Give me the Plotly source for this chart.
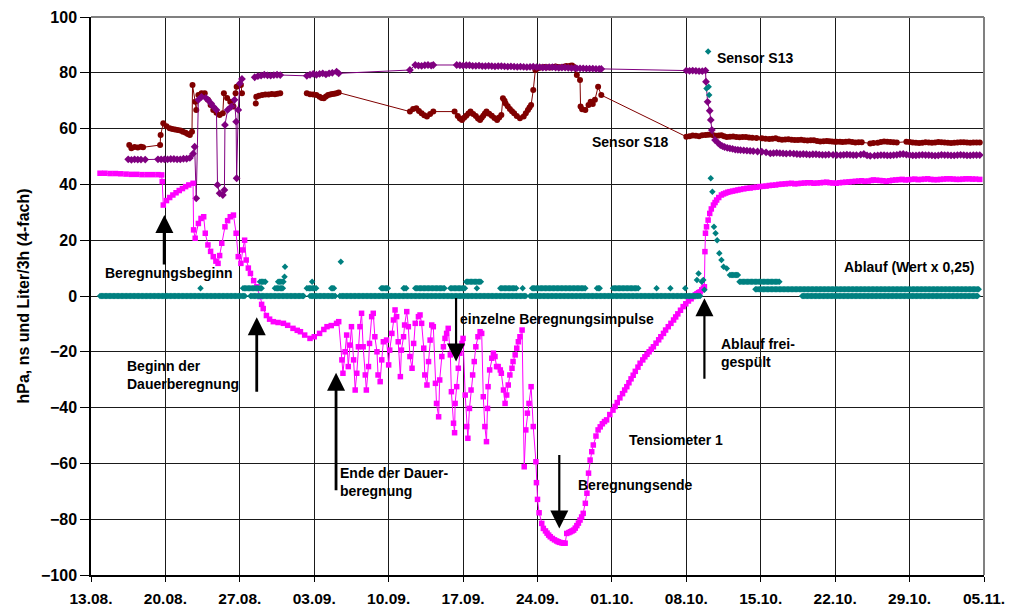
import numpy as np
import pandas as pd
import plotly.graph_objects as go

BASE = pd.Timestamp("2001-08-13")

# ---------------- Tensiometer 1 (days after 13.08., hPa) ----------------
t1_days = [0.85, 1.3, 1.8, 2.3, 2.8, 3.3, 3.8, 4.3, 4.8, 5.3, 5.8, 6.3, 6.65, 6.7, 6.8,
           7.1, 7.4, 7.7, 8.0, 8.3, 8.6, 8.9, 9.2, 9.6,
           9.65, 9.8, 10.1, 10.35, 10.6, 10.75, 11.0, 11.25, 11.5, 11.75, 11.95, 12.1, 12.3,
           12.6, 12.85, 13.1, 13.4, 13.65, 13.85, 14.1, 14.27, 14.45, 14.6, 14.8, 15.0, 15.3,
           15.6, 15.9, 16.05, 16.2, 16.5, 16.8, 17.15, 17.6, 18.1, 18.5, 19.0, 19.4, 19.7,
           20.1, 20.6, 21.0, 21.5, 21.9, 22.2, 22.6, 23.1, 23.3,
           23.6, 23.7, 23.9, 24.05, 24.2, 24.35, 24.5, 24.7, 24.85, 25.0, 25.15, 25.3, 25.45,
           25.6, 25.8, 25.9, 26.1, 26.2, 26.4, 26.55, 26.7, 26.9, 27.0, 27.2, 27.35, 27.5,
           27.8, 28.0, 28.1, 28.3, 28.45, 28.6, 28.75, 28.9, 29.1, 29.2, 29.4, 29.5, 29.7,
           29.85, 30.0, 30.2, 30.35, 30.5, 30.8, 30.95, 31.1, 31.3, 31.4, 31.6, 31.75, 31.9,
           32.05, 32.2, 32.4, 32.5, 32.7, 32.8, 33.0, 33.15, 33.3, 33.45, 33.6, 33.8, 33.9,
           34.1, 34.2, 34.25, 34.4, 34.55, 34.7, 34.9, 35.0, 35.2, 35.35, 35.45, 35.6, 35.75,
           35.9, 36.05, 36.2, 36.4, 36.6, 36.75, 36.9, 37.05, 37.2, 37.3, 37.35, 37.5, 37.7,
           37.85, 38.0, 38.15, 38.3, 38.5, 38.6, 38.8, 38.95, 39.1, 39.25, 39.4, 39.6, 39.7,
           39.9, 40.05, 40.2, 40.35, 40.55, 40.75, 40.9, 41.05, 41.2, 41.4, 41.6, 41.85, 41.9,
           42.0, 42.15, 42.4,
           42.55, 42.75, 42.9, 43.05, 43.2, 43.4, 43.6, 43.8, 43.95, 44.1, 44.3, 44.45, 44.6,
           44.75, 44.95, 45.1, 45.25, 45.4, 45.55, 45.7, 45.85, 46.0, 46.15, 46.3,
           46.5, 46.65, 46.8, 46.95, 47.1, 47.25, 47.5, 47.7, 47.9, 48.1, 48.3, 48.5, 48.8,
           49.1, 49.3, 49.5, 49.75, 50.0, 50.2, 50.4, 50.6, 50.8,
           51.0, 51.2, 51.45, 51.65, 51.9, 52.1, 52.3, 52.5, 52.7, 52.9, 53.15, 53.4, 53.6,
           53.85, 54.05, 54.3, 54.55, 54.8, 55.0, 55.2, 55.45, 55.7, 55.95, 56.2, 56.45, 56.65,
           56.85, 57.0, 57.15, 57.3, 57.45, 57.6, 57.7, 57.75, 57.8, 57.9, 58.05, 58.2, 58.35,
           58.55, 58.7, 58.85, 59.05, 59.3,
           59.5, 59.7, 59.9, 60.1, 60.35, 60.6, 60.85, 61.1, 61.4, 61.7, 62.0, 62.3, 62.6,
           62.9, 63.2, 63.5, 63.8, 64.1, 64.4, 64.7, 65.0, 65.3, 65.6, 65.9, 66.2, 66.5, 66.8,
           67.1, 67.4, 67.7, 68.0, 68.3, 68.6, 68.9, 69.2, 69.5, 69.8, 70.1, 70.4, 70.7, 71.0,
           71.3, 71.6, 71.9, 72.2, 72.5, 72.8, 73.1, 73.4, 73.6, 73.9, 74.2, 74.5, 74.8, 75.1,
           75.4, 75.7, 76.0, 76.3, 76.6, 76.9, 77.2, 77.5, 77.8, 78.1, 78.4, 78.7, 79.0, 79.3,
           79.6, 79.9, 80.2, 80.5, 80.8, 81.1, 81.4, 81.7, 82.0, 82.3, 82.6, 82.9, 83.2, 83.6]
t1_vals = [44.0, 44.0, 43.9, 43.9, 43.8, 43.7, 43.6, 43.6, 43.5, 43.5, 43.5, 43.5, 43.4, 41.0, 32.6,
           34.2, 35.3, 36.2, 37.0, 37.8, 38.5, 39.2, 39.8, 40.4,
           23.7, 20.7, 26.0, 27.8, 28.4, 22.5, 18.3, 16.0, 14.1, 12.5, 11.7, 14.5, 18.9,
           24.8, 27.0, 28.4, 29.0, 22.5, 14.1, 11.7, 16.5, 20.0, 12.9, 10.0, 8.1, 5.5,
           3.3, -0.2, -3.0, -4.5, -7.0, -8.3, -9.2, -9.5, -9.8, -10.5, -11.6, -12.3, -12.8,
           -14.0, -15.2, -14.6, -13.4, -12.0, -11.0, -10.6, -9.8, -9.2,
           -22.9, -27.7, -20.0, -14.0, -25.3, -17.6, -11.0, -22.9, -33.7, -27.7, -18.2, -11.0, -6.2,
           -18.2, -28.3, -33.7, -25.3, -17.0, -7.4, -6.2, -14.6, -20.0, -28.3, -30.7, -22.9, -16.4,
           -15.8, -24.7, -19.4, -13.4, -8.6, -5.0, -7.4, -16.4, -28.9, -19.4, -14.6, -10.4, -5.6,
           -11.0, -21.7, -25.9, -17.0, -9.8, -7.4, -6.8, -9.8, -18.7, -28.3, -31.9, -23.5, -15.8,
           -10.4, -11.0, -31.3, -38.5, -43.3, -30.1, -21.7, -18.2, -15.2, -13.4, -11.6, -21.1, -34.3,
           -45.6, -49.0, -38.5, -32.5, -25.9, -20.5, -17.0, -15.2, -35.5, -46.8, -51.0, -40.3, -33.7,
           -28.3, -23.5, -18.2, -14.6, -12.8, -13.4, -36.1, -46.8, -52.2, -40.3, -32.5, -26.5, -22.3,
           -20.5, -21.7, -25.3, -25.3, -26.5, -27.7, -33.7, -38.5, -35.5, -31.9, -28.3, -25.9, -23.5,
           -21.1, -18.7, -16.4, -14.6, -12.2, -61.2, -48.0, -42.0, -38.5, -32.5, -46.8, -59.4, -66.9,
           -72.9, -77.7, -81.5,
           -83.3, -84.2, -85.0, -85.7, -86.3, -86.9, -87.4, -87.8, -88.1, -88.3, -88.5, -88.6, -88.6,
           -85.1, -84.8, -84.5, -84.2, -83.9, -83.2, -82.3, -81.4, -80.3, -79.2, -77.9,
           -74.3, -70.7, -63.5, -58.8, -55.8, -53.4, -50.2, -48.0, -46.9, -45.8, -45.0, -44.4, -42.5,
           -40.9, -39.6, -38.2, -36.5, -35.0, -33.7, -32.5, -31.1, -29.7,
           -28.4, -27.0, -25.5, -24.1, -22.9, -21.8, -20.9, -20.0, -19.1, -18.2, -16.9, -15.7, -14.6,
           -13.4, -12.2, -11.0, -9.8, -8.6, -7.5, -6.4, -5.1, -3.8, -2.8, -1.8, -1.0, -0.2,
           0.4, 0.8, 1.2, 1.5, 2.2, 2.8, 3.3, 15.9, 22.5, 24.8, 27.2, 29.6, 31.2,
           32.6, 33.5, 34.4, 35.3, 36.2,
           36.6, 36.9, 37.2, 37.4, 37.6, 37.8, 38.0, 38.2, 38.4, 38.6, 38.7, 38.9, 39.0,
           39.2, 39.3, 39.4, 39.6, 39.7, 39.8, 40.0, 40.1, 40.2, 40.3, 40.4, 40.2, 40.3, 40.4,
           40.5, 40.6, 40.6, 40.4, 40.5, 40.6, 40.7, 40.8, 40.6, 40.5, 40.4, 40.6, 40.7, 40.8,
           40.9, 41.0, 41.1, 41.2, 41.3, 41.1, 41.2, 41.4, 41.6, 41.5, 41.4, 41.3, 41.1, 41.3,
           41.5, 41.6, 41.7, 41.8, 41.6, 41.7, 41.8, 41.9, 41.7, 41.8, 41.9, 42.0, 41.8, 41.7,
           41.7, 41.8, 41.9, 42.0, 42.0, 41.9, 41.8, 41.8, 41.9, 42.0, 42.0, 41.9, 41.9, 41.8]

# ---------------- Sensor S13 (ns) ----------------
s13_days = [3.5, 3.8, 4.1, 4.4, 4.7, 5.1, 6.3, 6.6, 6.9, 7.2, 7.5, 7.8, 8.1, 8.4, 8.7, 9.0,
            9.3, 9.6, 9.75, 9.9,
            10.1, 10.4, 10.8, 11.0, 11.3, 11.5, 11.8, 11.9, 12.1, 12.4, 12.55, 12.6, 12.85,
            13.2, 13.5, 13.65, 13.7, 13.85, 14.0, 14.2, 14.8,
            15.4, 15.7, 16.0, 16.3, 16.6, 16.9, 17.2, 17.5, 17.8, 20.3, 20.6, 20.9, 21.2, 21.5,
            21.8, 22.1, 22.4, 22.7, 23.1, 23.3,
            30.0, 30.5, 30.8, 31.1, 31.4, 31.7, 32.0, 32.2, 34.4, 34.7, 35.0, 35.3, 35.6, 35.9,
            36.2, 36.5, 36.8, 37.1, 37.4, 37.7, 38.0, 38.3, 38.6, 38.9, 39.2, 39.5, 39.8, 40.1,
            40.4, 40.7, 41.0, 41.3, 41.6, 41.9, 42.2, 42.5, 42.8, 43.1, 43.4, 43.7, 44.0, 44.3,
            44.6, 44.9, 45.2, 45.5, 45.7, 46.0, 46.3, 46.6, 46.9, 47.2, 47.5, 47.8, 48.0,
            56.0, 56.3, 56.6, 56.9, 57.2, 57.5, 57.8, 57.85, 58.0, 58.2, 58.3, 58.4, 58.7,
            59.0, 59.2, 59.4, 59.6, 59.85, 60.1, 60.35, 60.6, 60.85, 61.1, 61.4, 61.7, 62.0, 62.3,
            62.7, 63.1, 63.5, 63.9, 64.2, 64.5, 64.8, 65.1, 65.4, 65.75, 66.1, 66.4, 66.7, 67.0,
            67.3, 67.6, 67.9, 68.2, 68.5, 68.8, 69.1, 69.4, 69.8, 70.15, 70.5, 70.8, 71.1, 71.4,
            71.7, 72.0, 72.4, 72.7, 73.0, 73.3, 73.7, 74.0, 74.3, 74.6, 74.9, 75.2, 75.5, 75.8,
            76.1, 76.4, 76.7, 77.0, 77.3, 77.6, 77.9, 78.2, 78.5, 78.8, 79.1, 79.4, 79.7, 80.0,
            80.3, 80.6, 80.9, 81.2, 81.5, 81.8, 82.1, 82.4, 82.7, 83.0, 83.3, 83.6]
s13_vals = [49.0, 48.8, 49.0, 48.9, 48.9, 48.9, 49.0, 49.0, 49.0, 49.0, 49.1, 49.1, 49.0, 49.0, 49.2, 49.2,
            49.5, 51.0, 53.5, 35.0,
            70.3, 71.4, 71.0, 70.3, 69.0, 67.9, 66.7, 39.8, 36.8, 36.2, 38.0, 61.3, 66.7,
            67.9, 70.3, 62.5, 42.2, 66.7, 76.2, 77.8, None,
            78.4, 78.8, 79.0, 79.3, 79.1, 79.0, 79.2, 79.3, 79.2, 78.9, 79.3, 79.6, 79.3, 79.6,
            79.8, 79.4, 79.8, 80.0, 80.4, 79.8,
            81.0, 82.8, 82.6, 82.5, 82.7, 82.8, 82.6, 82.8, 82.8, 82.7, 82.6, 82.7, 82.7, 82.5,
            82.5, 82.6, 82.4, 82.4, 82.5, 82.4, 82.3, 82.4, 82.4, 82.3, 82.2, 82.3, 82.2, 82.1,
            82.2, 82.1, 82.0, 82.1, 82.2, 82.0, 82.0, 81.9, 81.9, 82.0, 82.0, 81.9, 81.8, 81.9,
            81.9, 81.8, 81.7, 81.7, 81.6, 81.6, 81.6, 81.5, 81.5, 81.5, 81.4, 81.4, 81.4,
            80.8, 80.7, 80.8, 80.7, 80.6, 80.6, 80.8, 76.8, 69.6, 66.4, 63.1, 59.5, 55.9,
            54.8, 54.1, 53.7, 53.4, 53.1, 52.9, 52.7, 52.5, 52.4, 52.3, 52.2, 52.1, 52.0, 51.9,
            51.8, 51.7, 51.5, 51.1, 51.2, 51.3, 51.2, 51.1, 51.0, 51.1, 51.0, 50.9, 50.8, 50.9,
            50.8, 50.7, 50.8, 50.8, 50.7, 50.6, 50.6, 50.7, 50.6, 50.5, 50.5, 50.6, 50.7, 50.6,
            50.5, 50.5, 50.7, 50.9, 50.4, 50.2, 50.3, 50.4, 50.5, 50.5, 50.4, 50.4, 50.5, 50.6,
            50.8, 50.9, 50.7, 50.5, 50.4, 50.4, 50.5, 50.6, 50.5, 50.5, 50.4, 50.3, 50.4, 50.6,
            50.5, 50.5, 50.4, 50.4, 50.5, 50.6, 50.5, 50.4, 50.4, 50.5, 50.5, 50.5]

# ---------------- Sensor S18 (ns) ----------------
s18_days = [3.6, 3.8, 4.1, 4.4, 4.7, 4.9, 6.5, 6.55, 6.8, 7.1, 7.4, 7.65, 7.9, 8.15, 8.4, 8.65,
            8.9, 9.1, 9.3, 9.5,
            9.55, 9.8, 9.9, 10.1, 10.4, 10.7, 11.0, 11.25, 11.5, 11.8, 12.1, 12.4, 12.5, 12.8,
            13.1, 13.4, 13.6, 13.7, 14.1, 14.2, 14.8,
            15.5, 15.55, 15.8, 16.1, 16.4, 16.7, 17.0, 17.3, 17.55, 17.8, 19.0,
            20.3, 20.6, 20.9, 21.2, 21.5, 21.7, 21.9, 22.1, 22.3, 22.5, 22.7, 22.9, 23.1, 23.3,
            30.0, 30.3, 30.6, 30.85, 31.1, 31.35, 31.6,
            31.9, 32.2, 34.2, 34.5, 34.7, 34.9, 35.1, 35.3, 35.5, 35.7, 35.95, 36.2, 36.4, 36.6,
            36.75, 36.9, 37.05, 37.2, 37.45, 37.7, 37.95, 38.2, 38.4, 38.6,
            38.75, 38.9, 39.0, 39.2, 39.4, 39.6, 39.8, 40.05, 40.35, 40.7, 40.9, 41.1, 41.25, 41.4,
            41.6, 41.8, 42.0, 42.2, 42.45, 42.7, 42.95, 43.2, 43.45, 43.7,
            43.95, 44.2, 44.45, 44.7, 44.9, 45.1, 45.25, 45.4, 45.7, 46.0, 46.05, 46.2, 46.5,
            46.8, 47.0, 47.2, 47.4, 47.7,
            48.0, 56.0, 56.3, 56.6, 56.9, 57.2, 57.5, 57.8, 58.05, 58.3, 58.55, 58.8, 59.05, 59.3,
            59.55, 59.8, 60.1, 60.4, 60.7, 61.0, 61.3, 61.6, 61.9, 62.2, 62.6, 63.1, 63.45, 63.8,
            64.1, 64.4, 64.7, 65.0, 65.3, 65.6, 65.9, 66.2, 66.5, 66.8, 67.1, 67.4, 67.7, 68.0,
            68.3, 68.6, 68.9, 69.2, 69.45, 69.7, 69.95, 70.15, 70.45, 70.7, 71.0, 71.3, 71.6,
            71.9, 72.2, 72.5, 73.3, 73.6, 74.0, 74.3, 74.6, 74.9, 75.2, 75.5, 75.8, 76.7, 77.0,
            77.3, 77.6, 77.9, 78.2, 78.5, 78.8, 79.1, 79.4, 79.7, 80.0, 80.3, 80.6, 80.9, 81.2,
            81.5, 81.8, 82.1, 82.4, 82.7, 83.0, 83.3, 83.6]
s18_vals = [54.1, 53.0, 53.4, 53.2, 53.5, 53.3, 54.1, 57.7, 61.9, 60.8, 60.1, 59.9, 59.7, 59.5, 59.3, 58.9,
            58.5, 58.1, 57.7, 58.9,
            75.6, 69.6, 66.7, 72.0, 72.7, 72.7, 70.3, 68.5, 66.7, 65.7, 64.9, 65.5, 72.7, 71.0,
            69.6, 67.9, 72.7, 75.0, 75.6, 72.7, None,
            69.0, 71.4, 71.8, 72.0, 72.2, 72.2, 72.4, 72.3, 72.5, 72.7, None,
            72.7, 72.3, 72.2, 72.0, 71.4, 71.0, 70.9, 71.5, 72.0, 72.2, 72.4, 72.5, 72.7, 72.9,
            66.1, 67.0, 67.3, 66.3, 65.5, 64.8, 64.3,
            65.2, 66.1, 66.1, 64.5, 63.6, 63.1, 63.9, 64.6, 65.4, 66.1, 65.2, 64.5, 63.6, 63.1,
            63.9, 64.6, 65.4, 66.1, 65.3, 64.6, 63.8, 63.1, 64.0, 64.9,
            70.9, 70.0, 69.0, 68.0, 67.0, 66.2, 65.5, 64.5, 63.7, 64.3, 65.5, 66.7, 67.6, 68.5,
            73.8, 81.0, 81.5, 81.8, 82.0, 82.1, 82.0, 81.9, 82.1, 82.3,
            82.1, 82.0, 82.2, 82.4, 82.3, 82.5, 82.6, 82.2, 79.2, 77.4, 67.9, 66.9, 66.7,
            68.5, 69.6, 68.8, 70.3, 75.0,
            72.0, 57.1, 57.3, 57.5, 57.4, 57.3, 57.6, 57.7, 57.8, 57.9, 57.6, 57.4, 57.5, 57.6,
            57.3, 57.0, 57.1, 57.2, 57.0, 56.9, 57.0, 57.0, 56.8, 56.7, 56.6, 56.5, 56.4, 56.3,
            56.4, 56.5, 56.2, 56.0, 56.1, 56.2, 56.0, 55.9, 55.9, 56.0, 55.8, 55.7, 55.8, 55.8,
            55.6, 55.4, 55.5, 55.6, 55.5, 55.4, 55.3, 55.3, 55.3, 55.2, 55.3, 55.4, 55.2,
            55.0, 55.1, 55.1, 54.7, 54.8, 54.9, 55.2, 55.4, 55.3, 55.2, 55.1, 55.0, 55.3, 55.2,
            55.0, 54.9, 54.8, 54.9, 55.1, 55.0, 54.9, 55.0, 55.2, 55.1, 55.0, 54.9, 54.8, 54.9,
            55.0, 55.1, 55.1, 55.0, 54.9, 55.0, 55.0, 55.0]

# ---------------- Ablauf (Wert x 0,25), 3-hourly readings ----------------
# runs of constant readings: start day, end day, value
abl_run_start = [0.85, 15.0, 20.6, 23.4, 41.3, 66.9,
                 14.3, 17.3, 20.3, 22.6, 27.3, 29.4, 30.5, 33.8, 36.3, 38.5, 40.6, 41.5,
                 47.6, 49.1, 53.2, 54.5, 55.9, 62.5,
                 15.9, 17.6, 35.3, 61.0, 60.1]
abl_run_end = [14.5, 20.0, 23.0, 41.0, 57.3, 83.5,
               16.1, 18.1, 21.2, 22.95, 28.0, 29.7, 33.3, 35.2, 36.4, 40.0, 40.7, 46.6,
               47.9, 51.5, 53.3, 54.6, 56.0, 83.5,
               16.5, 18.1, 36.75, 64.8, 60.9]
abl_run_val = [0.0, 0.0, 0.0, 0.0, 0.0, 0.0,
               2.75, 2.75, 2.75, 2.75, 2.75, 2.75, 2.75, 2.75, 2.75, 2.75, 2.75, 2.75,
               2.75, 2.75, 2.75, 2.75, 2.75, 2.4,
               5.1, 5.1, 5.1, 5.1, 7.5]
abl_single_days = [10.3, 18.2, 18.25, 20.8, 23.5, 57.0, 57.15, 57.45, 57.6, 57.7,
                   57.9, 58.05, 58.1, 58.15, 58.3, 58.45, 58.6, 58.75, 58.9, 59.1, 59.3,
                   59.5, 59.8]
abl_single_vals = [2.75, 6.9, 10.5, 5.1, 12.3, 5.7, 8.1, 5.1, 5.7, 2.2,
                   74.4, 87.6, 75.0, 72.0, 42.2, 37.4, 24.8, 22.5, 20.0, 15.3, 12.9,
                   10.5, 9.9]

# ---------------- helpers ----------------
def to_dates(days):
    return BASE + pd.to_timedelta(np.asarray(days, dtype=float), unit="D")

abl_days = list(abl_single_days)
abl_vals = list(abl_single_vals)
for s, e, v in zip(abl_run_start, abl_run_end, abl_run_val):
    dd = np.arange(s, e + 1e-9, 0.125)
    abl_days += list(dd)
    abl_vals += [v] * len(dd)

C_T1 = "#FF00FF"
C_S13 = "#800080"
C_S18 = "#800000"
C_ABL = "#008080"

fig = go.Figure()
fig.add_trace(go.Scatter(x=to_dates(s18_days), y=s18_vals, mode="lines+markers",
                         name="Sensor S18", connectgaps=False,
                         line=dict(color=C_S18, width=1),
                         marker=dict(symbol="circle", size=6, color=C_S18)))
fig.add_trace(go.Scatter(x=to_dates(s13_days), y=s13_vals, mode="lines+markers",
                         name="Sensor S13", connectgaps=False,
                         line=dict(color=C_S13, width=1),
                         marker=dict(symbol="diamond", size=6, color=C_S13)))
fig.add_trace(go.Scatter(x=to_dates(t1_days), y=t1_vals, mode="lines+markers",
                         name="Tensiometer 1",
                         line=dict(color=C_T1, width=1),
                         marker=dict(symbol="square", size=5.5, color=C_T1)))
fig.add_trace(go.Scatter(x=to_dates(abl_days), y=abl_vals, mode="markers",
                         name="Ablauf",
                         marker=dict(symbol="diamond", size=5, color=C_ABL)))

FONT = "Liberation Sans, Arial, sans-serif"

def d(day):
    return BASE + pd.Timedelta(days=day)

texts = [
    ("Sensor S13", 58.7, 85.3),
    ("Sensor S18", 46.94, 55.3),
    ("Ablauf (Wert x 0,25)", 70.65, 10.5),
    ("Beregnungsbeginn", 1.13, 8.35),
    ("Beginn der<br>Dauerberegnung", 3.2, -28.3),
    ("Ende der Dauer-<br>beregnung", 23.24, -66.8),
    ("einzelne Beregnungsimpulse", 34.52, -8.35),
    ("Tensiometer 1", 50.4, -51.6),
    ("Beregnungsende", 45.63, -67.7),
    ("Ablauf frei-<br>gespült", 59.1, -20.4),
]
for t, dx, yv in texts:
    fig.add_annotation(x=d(dx), y=yv, text=t, showarrow=False, xanchor="left",
                       yanchor="middle", align="left",
                       font=dict(family=FONT, size=14, color="black", weight="bold"))

arrows = [  # head day, head value, tail offset px, width
    (6.9, 29.0, 51, 3.2),
    (15.59, -7.6, 76, 2.8),
    (23.05, -27.5, 119, 2.8),
    (34.34, -23.5, -65, 2.2),
    (44.05, -83.3, -75, 2.2),
    (57.7, -0.8, 82, 2.2),
]
for dx, yv, off, w in arrows:
    fig.add_annotation(x=d(dx), y=yv, ax=0, ay=off, text="", showarrow=True,
                       arrowhead=2, arrowsize=3.6 / w, arrowwidth=w, arrowcolor="black",
                       standoff=0)

fig.add_shape(type="line", xref="paper", yref="paper", x0=0, x1=1, y0=1, y1=1,
              line=dict(color="#808080", width=2))
fig.add_shape(type="line", xref="paper", yref="paper", x0=1, x1=1, y0=0, y1=1,
              line=dict(color="#808080", width=2))

fig.update_layout(
    width=1009, height=610,
    margin=dict(l=91, r=25, t=17, b=35, autoexpand=False),
    paper_bgcolor="white", plot_bgcolor="white",
    showlegend=False,
    font=dict(family=FONT, color="black"),
)
fig.update_xaxes(
    type="date", range=[BASE, d(84)], automargin=False,
    tick0=BASE, dtick=7 * 24 * 3600 * 1000, tickformat="%d.%m.",
    showgrid=True, gridcolor="#1a1a1a", gridwidth=1,
    showline=True, linecolor="black", linewidth=1.5,
    ticks="outside", ticklen=5, tickcolor="black",
    ticklabelstandoff=4,
    tickfont=dict(family=FONT, size=15.5, color="black", weight="bold"),
    zeroline=False,
)
fig.update_yaxes(
    range=[-100, 100], dtick=20, tick0=0, automargin=False,
    showgrid=True, gridcolor="#1a1a1a", gridwidth=1,
    showline=True, linecolor="black", linewidth=1.5,
    ticks="outside", ticklen=9, tickcolor="black",
    tickfont=dict(family=FONT, size=16, color="black", weight="bold"),
    zeroline=False,
    title=dict(text="hPa, ns und Liter/3h (4-fach)", standoff=7,
               font=dict(family=FONT, size=16, color="black", weight="bold")),
)

# remove the default page margin so the figure sits at the window's top-left corner
fig.write_html("out.html", config={"displayModeBar": False},
               post_script="document.body.style.margin='0';document.body.style.overflow='hidden';")
